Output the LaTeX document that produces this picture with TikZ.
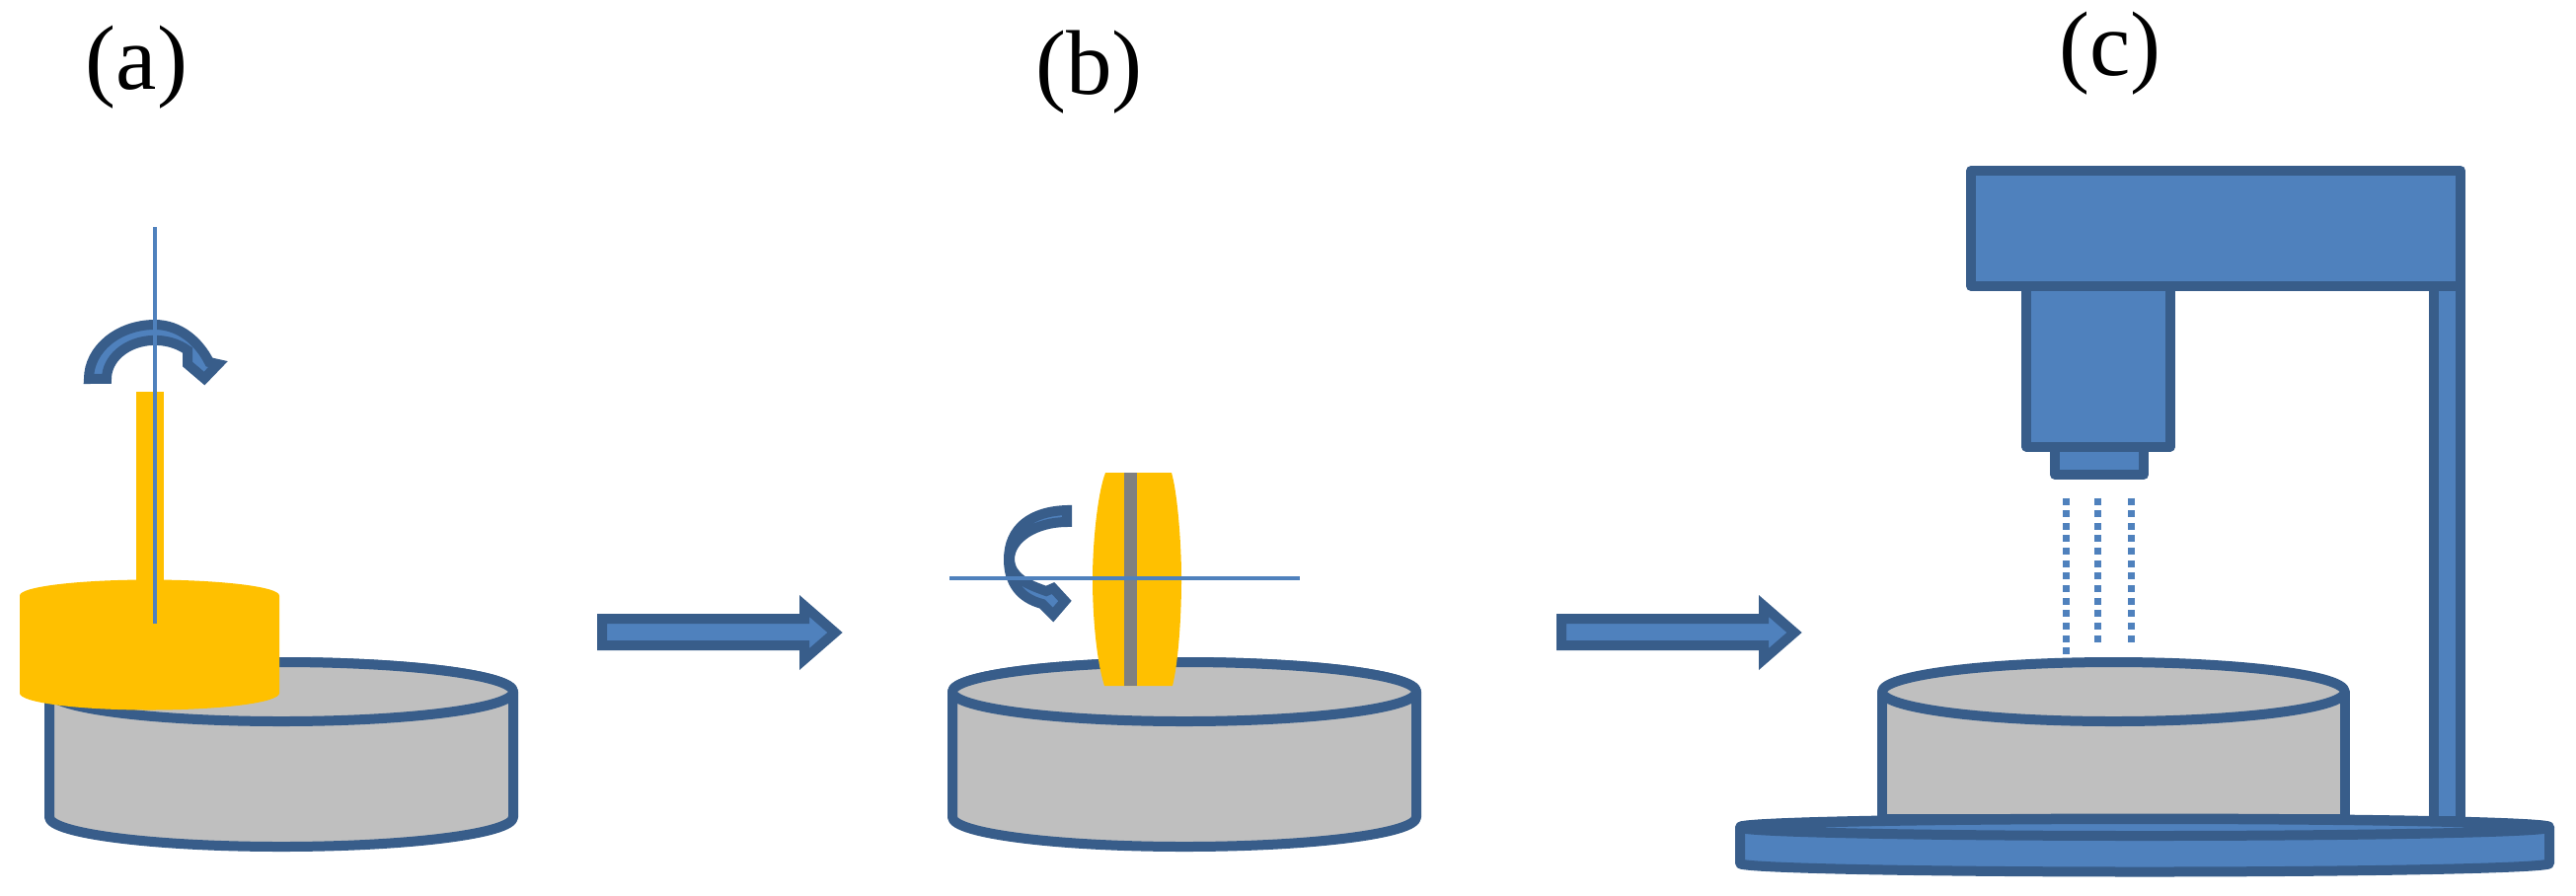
\documentclass[tikz,border=0pt]{standalone}
\usepackage{fontspec}
\setmainfont{Liberation Serif}
\definecolor{fillblue}{HTML}{4F81BD}
\definecolor{edgeblue}{HTML}{385D8A}
\definecolor{drumgrey}{HTML}{BFBFBF}
\definecolor{amber}{HTML}{FFC000}
\tikzset{
  edged/.style={draw=edgeblue,line width=5pt,fill=fillblue,line join=round},
  pointed/.style={draw=edgeblue,line width=5pt,fill=fillblue,line join=miter},
  drumbody/.style={draw=edgeblue,line width=5pt,fill=drumgrey,line join=round},
  axisline/.style={draw=fillblue,line width=1.9pt},
  beam/.style={draw=fillblue,line width=3.5pt,dash pattern=on 3.5pt off 2.83pt},
  caption/.style={font=\fontsize{46.5pt}{50pt}\selectfont,text=black,inner sep=0pt,anchor=center}
}
\newcommand{\drumshape}[4]{% x1, x2, top ellipse centre y, bottom ellipse centre y
  \path[drumbody] (#1,#3) -- (#1,#4) arc[start angle=180,end angle=0,x radius=235,y radius=30] -- (#2,#3) arc[start angle=0,end angle=-180,x radius=235,y radius=30] -- cycle;
  \path[drumbody] ({(#1+#2)/2},#3) ellipse[x radius=235,y radius=30];
}
\newcommand{\blockarrow}[1]{% left x of the centre line
  \path[pointed] (#1,627) -- ({#1+205},627) -- ({#1+205},614) -- ({#1+236},641) -- ({#1+205},668) -- ({#1+205},654) -- (#1,654) -- cycle;
}
\begin{document}
\begin{tikzpicture}[x=0.5pt,y=-0.5pt]
\useasboundingbox (0,0) rectangle (2610,907);
% labels
\node[caption] (la) at (138.5,68.5) {(a)};
\node[caption] (lb) at (1103.5,73) {(b)};
\node[caption] (lc) at (2138,54) {(c)};
% panel a
\drumshape{50}{520}{701}{828}
\fill[amber] (138,397) rectangle (166,600);
\fill[amber] (20,603.5) arc[start angle=180,end angle=360,x radius=131.5,y radius=16] -- (283,702.5) arc[start angle=0,end angle=180,x radius=131.5,y radius=17] -- cycle;
\path[pointed] (90,384) arc[start angle=180,end angle=270,x radius=67,y radius=55] .. controls (181,329) and (201,345) .. (212,367) -- (221,369) -- (207,383.5) -- (190,369) -- (190,355) arc[start angle=312.3,end angle=180,x radius=49,y radius=39] -- cycle;
\draw[axisline] (156.7,230) -- (156.7,632);
% panel b
\drumshape{965}{1435}{701}{828}
\fill[amber] (1120,479) -- (1187,479) .. controls (1193,500) and (1197,550) .. (1197,587) .. controls (1197,625) and (1194,670) .. (1188,695) -- (1119,695) .. controls (1111,670) and (1107,625) .. (1107,587) .. controls (1107,550) and (1112,500) .. (1120,479) -- cycle;
\fill[gray] (1139,479) rectangle (1152,695);
\path[pointed] (1081,517) .. controls (1045,518) and (1022,535) .. (1022,567) .. controls (1022,590) and (1033,606) .. (1056,612) -- (1067,623) -- (1079,609) -- (1067,596) -- (1060,599) .. controls (1040,592) and (1024,585) .. (1023,567) .. controls (1023,545) and (1050,529) .. (1081,529) -- cycle;
\draw[axisline] (962,586) -- (1317,586);
% panel c
\path[edged] (2466,290) rectangle (2493,832);
\path[edged] (2082,452) rectangle (2172,481);
\path[edged] (2053,290) rectangle (2199,452.5);
\path[edged] (1997,173) rectangle (2493,290);
\draw[beam] (2093,504.5) -- (2093,664);
\draw[beam] (2125,504.5) -- (2125,651);
\draw[beam] (2159,504.5) -- (2159,651);
\path[drumbody] (1907,701) -- (1907,830) -- (2375.7,830) -- (2375.7,701) -- cycle;
\path[drumbody] (2141.35,701) ellipse[x radius=234.35,y radius=30];
\path[edged] (1763,838) -- (1763,875) arc[start angle=180,end angle=0,x radius=410,y radius=8.5] -- (2583,838) arc[start angle=0,end angle=-180,x radius=410,y radius=8.5] -- cycle;
\path[edged] (2173,838.5) ellipse[x radius=410,y radius=8.5];
% arrows between panels
\blockarrow{610}
\blockarrow{1582}
\end{tikzpicture}
\end{document}
